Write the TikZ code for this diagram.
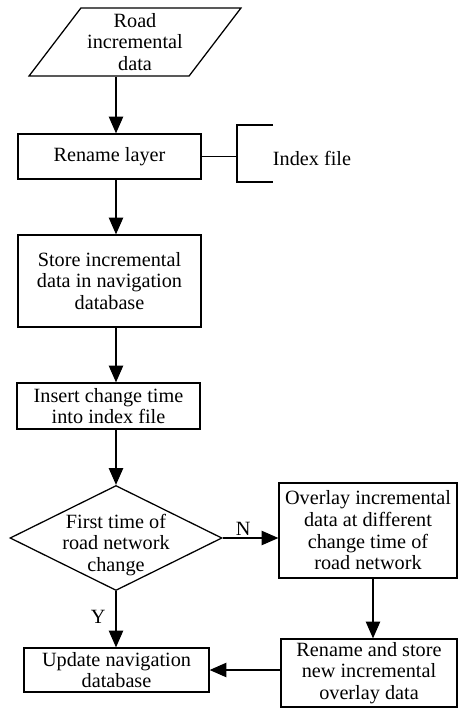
\documentclass[tikz,border=0pt]{standalone}
\usepackage{fontspec}
\setmainfont{Liberation Serif}
\usetikzlibrary{shapes.geometric,arrows.meta}

\begin{document}
\begin{tikzpicture}[>={Triangle[length=4.2mm,width=3.6mm]},line width=0.9pt]
    \tikzset{every node/.style={font=\fontsize{14.4}{15.4}\selectfont,align=center,inner sep=1pt},
             procbox/.style={rectangle,draw},
             iobox/.style={trapezium,draw,trapezium left angle=52,trapezium right angle=128,trapezium stretches},
             decision/.style={diamond,draw,aspect=2}}
    \useasboundingbox (0,0) rectangle (11.45,-17.725);
    \coordinate (spine) at (2.9,0);
    \coordinate (spineR) at (9.325,0);

    \node [iobox,minimum width=5.3cm,minimum height=1.7cm] (data) at (3.375,-1.05) {Road\\incremental\\data};
    \node [procbox,minimum width=4.575cm,minimum height=1.125cm] (rename) at (2.7375,-3.9125) {Rename layer};
    \node [procbox,minimum width=4.575cm,minimum height=2.3cm] (store) at (2.7375,-7.025) {Store incremental\\data in navigation\\database};
    \node [procbox,minimum width=4.575cm,minimum height=1.15cm] (insert) at (2.7125,-10.15) {Insert change time\\into index file};
    \node [decision,minimum width=5.3cm,minimum height=2.625cm,
           label={[yshift=-0.17cm]center:First time of\\road network\\change}] (first) at (2.9,-13.45) {};
    \node [procbox,minimum width=4.45cm,minimum height=2.375cm] (overlay) at (9.2,-13.2625) {Overlay incremental\\data at different\\change time of\\road network};
    \node [procbox,minimum width=4.4cm,minimum height=1.7cm] (restore) at (9.225,-16.825) {Rename and store\\new incremental\\overlay data};
    \node [procbox,minimum width=4.625cm,minimum height=1.1cm] (update) at (2.9125,-16.75) {Update navigation\\database};
    \node (index) at (7.8,-3.95) {Index file};

    \draw[->] (data.south -| spine) -- (rename.north -| spine);
    \draw[->] (rename.south -| spine) -- (store.north -| spine);
    \draw[->] (store.south -| spine) -- (insert.north -| spine);
    \draw[->] (insert.south -| spine) -- (first.north);
    \draw[->] (first.east) -- node[above,pos=0.37] {N} (overlay.west |- first.east);
    \draw[->] (first.south) -- node[left=6pt,pos=0.46] {Y} (update.north -| spine);
    \draw[->] (overlay.south -| spineR) -- (restore.north -| spineR);
    \draw[->] (restore.west |- update.east) -- (update.east);

    \draw (rename.east) -- (5.925,-3.9125);
    \draw (6.825,-3.125) -- (5.925,-3.125) -- (5.925,-4.55) -- (6.825,-4.55);

\end{tikzpicture}
\end{document}
